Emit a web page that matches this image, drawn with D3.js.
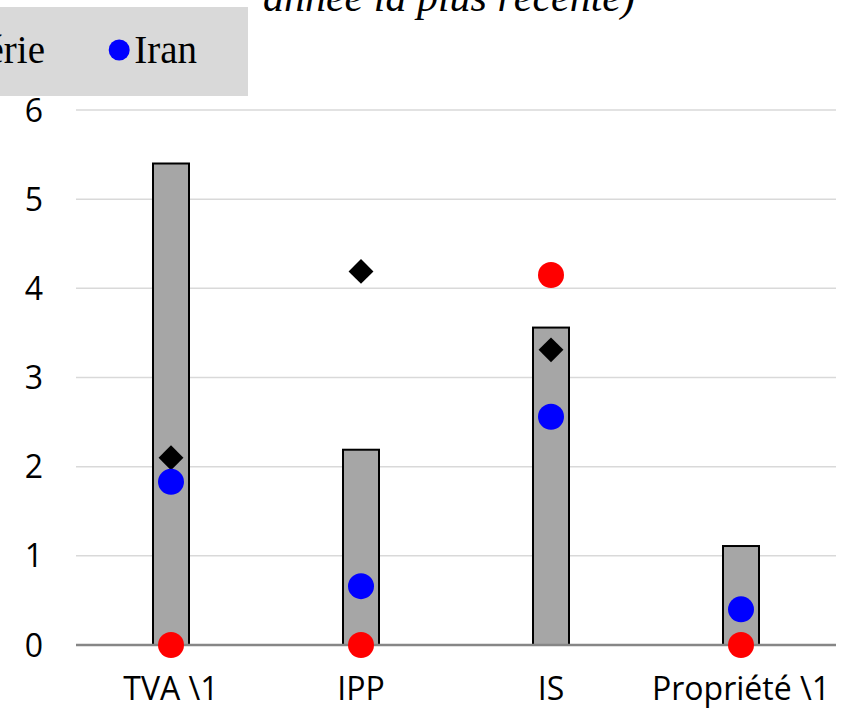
<!DOCTYPE html>
<html>
<head>
<meta charset="utf-8">
<script src="https://cdn.jsdelivr.net/npm/d3@7"></script>
<style>
  body { margin: 0; background: #fff; }
  svg { display: block; }
</style>
</head>
<body>
<div id="chart"></div>
<script>
// categories and series
var categories = ["TVA \\1", "IPP", "IS", "Propriété \\1"];
var barValues = [5.4, 2.19, 3.56, 1.11];
var diamondValues = [2.1, 4.19, 3.31, null];
var iranValues = [1.83, 0.66, 2.56, 0.4];
var algerieValues = [0, 0, 4.15, 0];
var yTicks = [0, 1, 2, 3, 4, 5, 6];

var width = 846, height = 710;
var margin = { left: 76, right: 10, top: 110, bottom: 65 };

var svg = d3.select("#chart").append("svg")
    .attr("width", width)
    .attr("height", height);

var x = d3.scaleBand()
    .domain(categories)
    .range([margin.left, width - margin.right]);

var y = d3.scaleLinear()
    .domain([0, 6])
    .range([height - margin.bottom, margin.top]);

// gridlines
svg.append("g").selectAll("line")
    .data(yTicks.filter(function(d) { return d > 0; }))
    .enter().append("line")
    .attr("x1", margin.left)
    .attr("x2", width - margin.right)
    .attr("y1", function(d) { return y(d); })
    .attr("y2", function(d) { return y(d); })
    .style("stroke", "#d9d9d9")
    .style("stroke-width", 1.5);

// y tick labels
svg.append("g").selectAll("text")
    .data(yTicks)
    .enter().append("text")
    .attr("x", 43)
    .attr("y", function(d) { return y(d); })
    .attr("dy", "0.36em")
    .attr("text-anchor", "end")
    .style("font-family", "'Open Sans', sans-serif")
    .style("font-size", "32px")
    .text(function(d) { return d; });

// bars
var barW = 36;
svg.append("g").selectAll("rect")
    .data(categories)
    .enter().append("rect")
    .attr("x", function(d) { return x(d) + x.bandwidth() / 2 - barW / 2; })
    .attr("y", function(d, i) { return y(barValues[i]); })
    .attr("width", barW)
    .attr("height", function(d, i) { return y(0) - y(barValues[i]); })
    .style("fill", "#a6a6a6")
    .style("stroke", "#000")
    .style("stroke-width", 2);

// baseline axis
svg.append("line")
    .attr("x1", margin.left)
    .attr("x2", width - margin.right)
    .attr("y1", y(0))
    .attr("y2", y(0))
    .style("stroke", "#868686")
    .style("stroke-width", 2.5);

// category labels
svg.append("g").selectAll("text")
    .data(categories)
    .enter().append("text")
    .attr("x", function(d) { return x(d) + x.bandwidth() / 2; })
    .attr("y", 700)
    .attr("text-anchor", "middle")
    .style("font-family", "'Open Sans', sans-serif")
    .style("font-size", "32px")
    .text(function(d) { return d; });

function cx(i) { return x(categories[i]) + x.bandwidth() / 2; }

// diamonds
var diamond = d3.symbol().type(d3.symbolSquare).size(310);
svg.append("g").selectAll("path")
    .data(diamondValues.map(function(v, i) { return { v: v, i: i }; })
        .filter(function(d) { return d.v !== null; }))
    .enter().append("path")
    .attr("d", diamond)
    .attr("transform", function(d) {
        return "translate(" + cx(d.i) + "," + y(d.v) + ") rotate(45)";
    })
    .style("fill", "#000");

// Iran (blue)
svg.append("g").selectAll("circle")
    .data(iranValues)
    .enter().append("circle")
    .attr("cx", function(d, i) { return cx(i); })
    .attr("cy", function(d) { return y(d); })
    .attr("r", 13)
    .style("fill", "#0000ff");

// Algérie (red)
svg.append("g").selectAll("circle")
    .data(algerieValues)
    .enter().append("circle")
    .attr("cx", function(d, i) { return cx(i); })
    .attr("cy", function(d) { return y(d); })
    .attr("r", 13)
    .style("fill", "#ff0000");

// title (last line, clipped at top)
svg.append("text")
    .attr("x", 449)
    .attr("y", 11)
    .attr("text-anchor", "middle")
    .style("font-family", "'Liberation Serif', serif")
    .style("font-style", "italic")
    .style("font-size", "42px")
    .text("année la plus récente)");

// legend box, partly off the left edge
svg.append("rect")
    .attr("x", -200)
    .attr("y", 7)
    .attr("width", 448)
    .attr("height", 89)
    .style("fill", "#d9d9d9");

var legendItems = [
    { name: "Algérie", color: "#ff0000", end: 45 },
    { name: "Iran", color: "#0000ff", end: 197 }
];
var lg = svg.append("g").selectAll("g")
    .data(legendItems)
    .enter().append("g");
lg.append("text")
    .attr("x", function(d) { return d.end; })
    .attr("y", 63)
    .attr("text-anchor", "end")
    .style("font-family", "'Liberation Serif', serif")
    .style("font-size", "39px")
    .text(function(d) { return d.name; })
    .each(function(d) {
        var w = this.getComputedTextLength();
        d3.select(this.parentNode).append("circle")
            .attr("cx", d.end - w - 15)
            .attr("cy", 50)
            .attr("r", 10.5)
            .style("fill", d.color);
    });
</script>
</body>
</html>
